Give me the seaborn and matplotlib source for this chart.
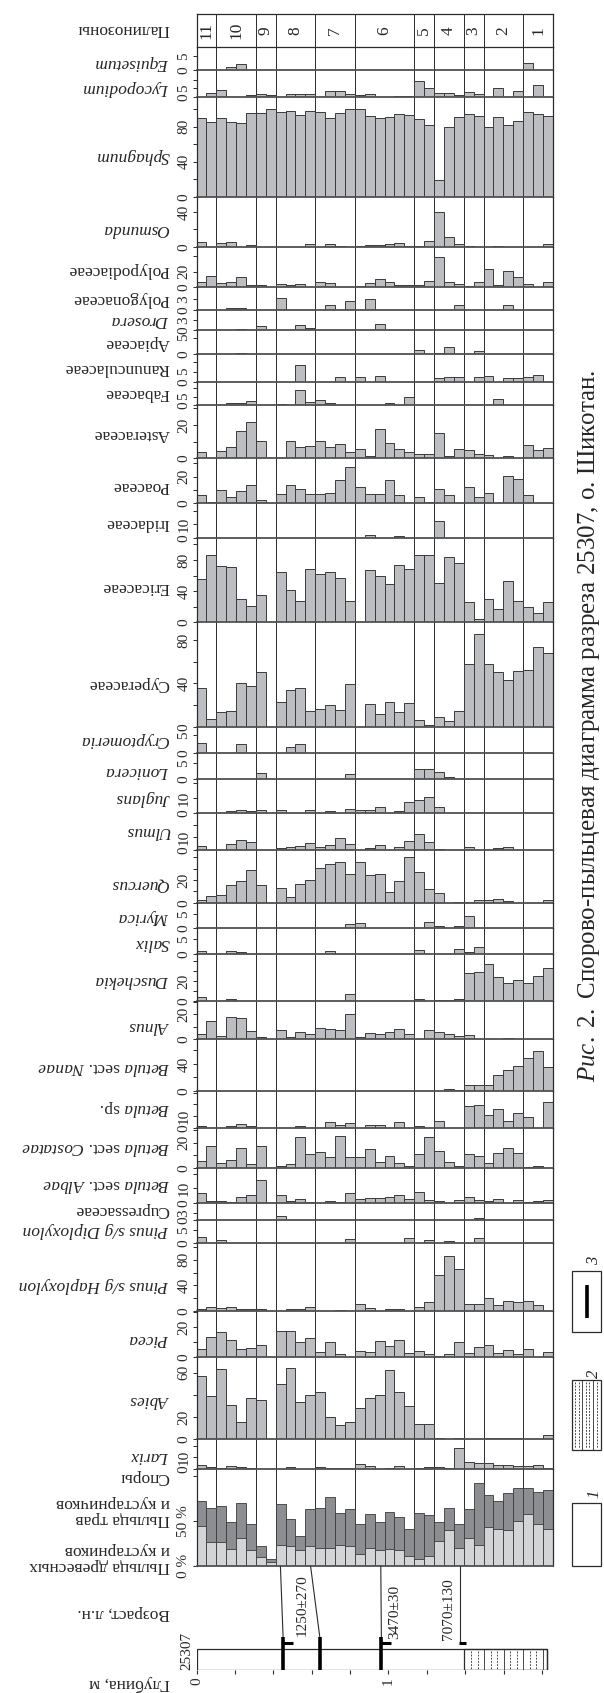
import numpy as np
import pandas as pd
import matplotlib
matplotlib.use("Agg")
import matplotlib.pyplot as plt
from matplotlib.patches import Rectangle
import seaborn as sns

# ==================== DATA ====================

N = 36
SAMPLES = list(range(N))

ZONE_NAMES = ['11', '10', '9', '8', '7', '6', '5', '4', '3', '2', '1']
ZONE_EDGES = [0, 2, 6, 8, 12, 16, 22, 24, 27, 29, 33, 36]

EQUISETUM = [0, 0, 0, 1.3, 2.1, 0, 0, 0, 0, 0, 0, 0, 0, 0, 0, 0, 0, 0,
             0, 0, 0, 0, 0, 0, 0, 0, 0, 0, 0, 0, 0, 0, 0, 2.4, 0, 0]
LYCOPODIUM = [0, 2, 3.8, 0, 0, 0.8, 1.4, 1, 0, 1.4, 1.4, 1.6, 0, 3.4, 3.4, 1.6, 0.8, 1.6,
              0, 0, 0.6, 0.6, 9.2, 5, 2, 2.4, 1, 2.8, 1.8, 0, 5.2, 0, 3.2, 0, 6.8, 0]
SPHAGNUM = [89.4, 85.6, 89.4, 85.6, 84.4, 95.8, 95.1, 99.6, 96.2, 98.1, 93.5, 97.3,
            96.2, 90.1, 95.8, 100, 99.6, 92.4, 90.1, 91.3, 94.7, 93.5, 88.2, 81.7,
            19.4, 79.8, 91.3, 94.7, 91.6, 79.1, 91.3, 81.7, 86.7, 97, 93.9, 92.4]
OSMUNDA = [5, 0, 3.9, 5.8, 0, 1.5, 0, 0, 0, 0, 0, 2.7, 0, 3.5, 1.2, 0, 1.2, 2.3,
           2.3, 2.7, 3.9, 1.2, 1.2, 6.2, 40.4, 10.9, 2.7, 1.2, 0, 0, 1.2, 0, 0, 0, 0, 3.5]
POLYPODIACEAE = [7.2, 14.9, 5.1, 7.2, 13.6, 2.6, 2.6, 0, 4.7, 2.6, 4.7, 0, 6.4, 5.1, 0, 0, 1.7, 6,
                 10.2, 7.2, 2.6, 2.6, 3.4, 7.7, 39, 7.2, 3.8, 2.1, 6.8, 23.4, 2.6, 21.3, 12.8, 3.8, 0, 6.4]
POLYGONACEAE = [0, 0, 0, 0.5, 0.7, 0, 0, 0, 3.5, 0, 0, 0, 0, 1.4, 0, 2.5, 0, 3.2,
                0, 0, 0, 0, 0, 0, 0, 0, 1.5, 0, 0, 0, 0, 1.4, 0, 0, 0, 0]
DROSERA = [0, 0, 0, 0, 0.5, 0, 1.2, 0, 0, 0, 1.7, 0.6, 0, 0, 0, 0, 0, 0,
           2, 0, 0, 0, 0, 0, 0, 0, 0, 0, 0, 0, 0, 0, 0, 0, 0, 0]
APIACEAE = [0, 0, 0, 0, 0.4, 0, 0, 0, 0, 0, 0, 0, 0, 0, 0, 0, 0, 0,
            0, 0, 0, 0, 1.2, 0, 0.3, 2.1, 0, 0, 0.8, 0, 0, 0, 0, 0, 0, 0]
RANUNCULACEAE = [0, 0, 0, 0, 0, 0, 0, 0, 0, 0, 8.3, 0, 0, 0, 2.5, 0, 2.2, 0,
                 3, 0, 0, 0, 0, 0, 1.8, 2.2, 2.2, 0, 2.2, 2.7, 0, 1.7, 1.7, 2.2, 3.2, 0]
FABACEAE = [0, 0, 0, 1.5, 1.5, 2.7, 0, 0, 1, 0, 8.8, 2.1, 3.3, 1.3, 0, 0, 0, 0,
            0, 1.3, 0, 5, 0, 0, 0, 0, 0, 0, 0, 0, 3.5, 0, 0, 0, 0, 0]
ASTERACEAE = [3.6, 0, 4.6, 7, 16.6, 21.6, 10.2, 0, 0, 10.6, 7, 7.6, 10.6, 6.6, 8.4, 4, 5.6, 1.6,
              17.8, 9, 5.8, 3.8, 2.8, 2.8, 15, 1.6, 5.4, 5, 2.4, 1.8, 0, 1.6, 0, 8, 4.8, 6.4]
POACEAE = [6.3, 1.3, 10, 5, 9.5, 14, 2.5, 0, 7.3, 14, 10.5, 7.3, 7.3, 8, 17.3, 27, 12.5, 6.8,
           7.3, 17.3, 6.3, 0, 4.8, 1, 11, 6.3, 0, 12.3, 4.8, 8, 0, 20.8, 18.3, 6, 0, 0]
IRIDACEAE = [0, 0, 0, 0, 0, 0, 0, 0, 0, 0, 0, 0, 0, 0, 0, 0, 0, 1.75,
             0, 0, 1, 0, 0, 0, 12.8, 0, 0, 0, 0, 0, 0, 0, 0, 0, 0, 0]
ERICACEAE = [55, 86, 72.6, 70.5, 30, 21.4, 35.5, 0, 65, 41, 27.8, 68.8, 62.4, 64.5, 56.8, 27.8, 0, 66.7,
             59, 48.7, 73.5, 68.8, 86, 86, 50.9, 83.3, 75.6, 25.6, 4.3, 29.5, 17.5, 52.6, 27, 19.2, 12, 26.5]
CYPERACEAE = [35.4, 6.8, 13.2, 14.8, 40, 37.8, 50, 0, 22.8, 33.8, 36, 14.8, 16.3, 19.7, 15.7, 39.4, 0, 20.9,
              11.4, 22.5, 13.2, 21.5, 5.8, 1.2, 9.2, 5.2, 14.8, 57.5, 85.8, 57.5, 50.8, 43.4, 51.7, 52, 73.8, 68]
CRYPTOMERIA = [2.9, 0, 0, 0, 2.4, 0, 0, 0, 0, 1.7, 2.5, 0, 0, 0, 0, 0, 0, 0,
               0, 0, 0, 0, 0, 0, 0, 0, 0, 0, 0, 0, 0, 0, 0, 0, 0, 0]
LONICERA = [0, 0, 0, 0, 0, 0, 1.8, 0, 0, 0, 0, 0, 0, 0, 0, 1.5, 0, 0,
            0, 0, 0, 0, 3.1, 3.2, 2.1, 0.6, 0, 0, 0, 0, 0, 0, 0, 0, 0, 0]
JUGLANS = [0, 0, 0, 1.1, 1.8, 1.1, 1.8, 0, 1.8, 0, 0, 2.2, 0, 1.1, 0, 2.4, 1.8, 1.8,
           3.8, 0, 1.1, 7.3, 8.4, 10.9, 4.2, 0, 0, 0, 0, 0, 0, 0, 0, 0, 0, 0]
ULMUS = [3.2, 0, 0, 4.3, 7.8, 6.2, 0, 0, 1.1, 1.9, 2.7, 5.4, 1.9, 3.5, 9.5, 4.9, 0, 1.1,
         3.5, 0, 1.9, 7, 13, 6.5, 0.8, 0, 0, 2.2, 0, 0, 1.6, 1.9, 0, 0, 0, 0]
QUERCUS = [2, 5.9, 6.5, 15.9, 18.8, 29, 15.6, 0, 13.2, 5, 16.8, 20.3, 30.3, 34.4, 35.6, 25.6, 35.9, 24.7,
           25.6, 9.7, 18.8, 40.3, 27.4, 11.8, 8.8, 0, 0.9, 0.9, 2.4, 2.6, 3.5, 1.8, 0, 0, 0, 2]
MYRICA = [0, 0, 0, 0, 0, 0, 0, 0, 0, 0, 0, 0, 0, 0, 0, 1.5, 1.7, 0,
          0, 0, 0, 0, 0, 2.1, 0.8, 0, 0.7, 4.3, 0, 0, 0, 0, 0, 0, 0, 0]
SALIX = [1.1, 0, 0, 0.9, 0.6, 0, 0, 0, 0, 0, 0, 0, 0, 0.9, 0, 0, 0, 0,
         0, 0, 0, 0, 1.5, 0, 0, 0, 1.6, 0.7, 2.3, 0, 0, 0, 0, 0, 0, 0]
DUSCHEKIA = [4.1, 0, 0, 1.4, 0, 0, 0, 0, 0, 0, 0, 0, 0, 0, 0, 7.1, 0, 0,
             0, 0, 0, 0, 2, 0, 0.7, 0.7, 2, 27.8, 29.2, 37.3, 24, 18, 20.7, 18.3, 25.4, 32.9]
ALNUS = [4.3, 14.1, 2.1, 17.3, 16.5, 6.1, 1.6, 0, 7.2, 1.6, 5.9, 3.7, 8.5, 7.7, 6.9, 19.7, 1.6, 4.5,
         3.7, 5.3, 8, 3.7, 0, 6.9, 5.9, 3.7, 2.1, 2.9, 0, 0, 0, 1, 0, 0, 0, 0]
BETULA_NANAE = [0, 0, 0, 0, 0, 0, 0, 0, 0, 0, 0, 0, 0, 0, 0, 0, 0, 0,
                0, 0, 0, 0, 0, 0, 0, 2.5, 1, 8.4, 9.4, 8.9, 24.2, 31.6, 36.5, 48.4, 59.8, 35]
BETULA_SP = [1.1, 0, 0, 1.7, 3.1, 1.1, 0, 0, 0, 0, 1.1, 0, 0, 4.6, 2, 4, 0, 2.6,
             2.6, 0, 5.1, 0, 1.7, 0, 6, 0, 0, 18.9, 19.7, 11.1, 16.3, 6, 12.3, 8.9, 0, 22.3]
BETULA_COSTATAE = [5.5, 17.7, 4.4, 6.8, 15.6, 3.1, 17.7, 0, 2.1, 3.6, 24.4, 11.4, 12.7, 9.1, 24.9, 9.1, 9.1, 15.1,
                   5.2, 9.9, 4.4, 2.1, 11.2, 24.7, 13.5, 5.2, 2.1, 11.2, 9.9, 3.9, 12, 15.6, 11.7, 1, 1.6, 0]
BETULA_ALBAE = [7, 1.2, 1.2, 0.5, 4.2, 5.6, 16, 0, 5.3, 1.4, 2.3, 0.5, 0, 1.2, 0.5, 7, 2.6, 3.5,
                3, 3.7, 5.3, 2.8, 7.7, 1.6, 1.2, 0, 1.6, 3.7, 1.9, 0.9, 2.3, 0, 1.6, 0.7, 1.4, 1.6]
CUPRESSACEAE = [0, 0, 0, 0, 0, 0, 0, 0, 1.8, 0, 0, 0, 0, 0, 0, 0, 0, 0,
                0, 0, 0, 0, 0, 0, 0, 0, 0, 0, 0.75, 0, 0, 0, 0, 0, 0, 0]
PINUS_DIPLOXYLON = [2.4, 0, 1.2, 0, 0, 0, 0, 0, 0, 0, 0, 0, 0, 0, 0, 1.6, 0, 0,
                    0, 0, 0, 2, 0, 0.9, 0, 0.7, 0, 0, 1.8, 0, 0, 0, 0, 0, 0, 0]
PINUS_HAPLOXYLON = [2.6, 6.8, 4.2, 6.8, 3.1, 2.6, 3.6, 0, 0, 3.1, 2.6, 5.7, 0, 0, 2.1, 0, 10.4, 4.2,
                    0, 3.6, 2.6, 0, 6.8, 13.5, 55.6, 86.2, 65.5, 11.4, 11.4, 20.8, 8.8, 16.1, 13.5, 15.1, 8.8, 0]
PICEA = [5.3, 13.8, 16.7, 11.3, 5.8, 6, 8, 0, 17.3, 17.3, 10, 12.7, 3.3, 10.2, 2, 0, 4.4, 3.8,
         11.1, 7.3, 11.6, 3.1, 4, 2, 1.1, 2.4, 10, 2.7, 6.9, 8, 3.1, 4.9, 2, 5.8, 0, 3.3]
ABIES = [56.7, 39.4, 63, 31.2, 15.2, 37, 35.5, 0, 50, 64.2, 33.3, 40.3, 42.4, 19.7, 12.7, 15.2, 27.9, 37.3,
         40.3, 62.1, 42.7, 30, 13.3, 13.6, 0.9, 0, 1.2, 0, 0, 0.9, 0.9, 0.6, 0.6, 0, 0, 3.3]
LARIX = [2.9, 1.2, 0.6, 2.1, 1.5, 0.6, 0, 0, 0, 1.2, 0, 0, 1.2, 0.6, 0.6, 0.9, 3.8, 2.4,
         0, 0.6, 2.6, 0, 0.9, 1.8, 1.5, 0.9, 17.9, 5.6, 4.7, 5.3, 3.2, 3.5, 2.1, 2.1, 2.9, 0.9]

# summary: pollen of trees/shrubs, pollen of herbs/dwarf shrubs (rest = spores)
TREES = [44.1, 26.7, 25.9, 18.9, 30.4, 17, 9.6, 3.7, 23, 21.5, 17.4, 21.5, 19.6, 20, 23.3, 22.2, 12.6, 19.3,
         17.4, 18.9, 17, 10.7, 7, 10.4, 27.8, 39.6, 20, 30.7, 22.6, 43.3, 40.7, 40, 49.3, 57, 46.3, 40.4]
HERBS = [27.8, 37, 40.8, 29.2, 39.6, 28.9, 11.9, 3.3, 45.5, 30, 15.2, 41.5, 44.5, 56.7, 35.2, 40.8, 33.3, 38.1,
         31.1, 41.1, 37.4, 30.4, 51.9, 45.5, 20.3, 24.8, 25.9, 32.6, 68.9, 35.2, 30.8, 41.1, 36.6, 29.7, 35.9, 43.7]

# radiocarbon dates, labels placed at depth (m)
DATE_TEXT = ['1250±270', '3470±30', '7070±130']
DATE_TEXT_DEPTH = [0.552, 1.03, 1.315]
CORE_LEN = 1.828
CLAY_TOP = 1.396

# ==================== LAYOUT ====================

W, H = 604, 1693
X0, X1 = 196.5, 552.8
DEPTH_MAX = 1.856

# label, values, top px, base px, ymax, ticks, tick labels, label y px
STRIPS = [
    ('Equisetum', EQUISETUM, 46.7, 70.3, 8.2, [0, 5], ['0', '5'], 63),
    ('Lycopodium', LYCOPODIUM, 70.3, 96.7, 15.8, [0, 5, 10], ['0', '5', ''], 88),
    ('Sphagnum', SPHAGNUM, 96.7, 196.7, 114, [0, 20, 40, 60, 80, 100], ['0', '', '40', '', '80', ''], 156),
    ('Osmunda', OSMUNDA, 196.7, 246.7, 58, [0, 20, 40], ['0', '', '40'], 229),
    ('Polypodiaceae', POLYPODIACEAE, 246.7, 287.3, 52, [0, 20, 40], ['0', '20', ''], 270),
    ('Polygonaceae', POLYGONACEAE, 287.3, 310.3, 6.3, [0, 3], ['0', '3'], 299),
    ('Drosera', DROSERA, 310.3, 330.3, 6, [0, 3], ['0', '3'], 320),
    ('Apiaceae', APIACEAE, 330.3, 354, 7.2, [0, 5], ['0', '5'], 343),
    ('Ranunculaceae', RANUNCULACEAE, 354, 381.7, 13.8, [0, 5, 10], ['0', '5', ''], 368),
    ('Fabaceae', FABACEAE, 381.7, 405.3, 13.6, [0, 5, 10], ['0', '5', ''], 393),
    ('Asteraceae', ASTERACEAE, 405.3, 458.3, 31.8, [0, 10, 20, 30], ['0', '', '20', ''], 434),
    ('Poaceae', POACEAE, 458.3, 503.3, 33.8, [0, 10, 20, 30], ['0', '', '20', ''], 486),
    ('Iridaceae', IRIDACEAE, 503.3, 537.7, 25.8, [0, 10, 20], ['0', '10', ''], 523),
    ('Ericaceae', ERICACEAE, 537.7, 622.3, 108.5, [0, 20, 40, 60, 80, 100], ['0', '', '40', '', '80', ''], 587),
    ('Cyperaceae', CYPERACEAE, 622.3, 726.7, 96.3, [0, 20, 40, 60, 80], ['0', '', '40', '', '80'], 684),
    ('Cryptomeria', CRYPTOMERIA, 726.7, 752.7, 7.4, [0, 5], ['0', '5'], 740),
    ('Lonicera', LONICERA, 752.7, 779, 8.4, [0, 5], ['0', '5'], 771),
    ('Juglans', JUGLANS, 779, 813, 22.7, [0, 10, 20], ['0', '10', ''], 798),
    ('Ulmus', ULMUS, 813, 849.7, 29.7, [0, 10, 20], ['0', '10', ''], 831),
    ('Quercus', QUERCUS, 849.7, 902.7, 46.8, [0, 10, 20, 30, 40], ['0', '', '20', '', ''], 885),
    ('Myrica', MYRICA, 902.7, 928.3, 9, [0, 5], ['0', '5'], 917),
    ('Salix', SALIX, 928.3, 954, 8.75, [0, 5], ['0', '5'], 943),
    ('Duschekia', DUSCHEKIA, 954, 1000.7, 47.5, [0, 10, 20, 30, 40], ['0', '', '20', '', ''], 980),
    ('Alnus', ALNUS, 1000.7, 1039, 30.7, [0, 10, 20, 30], ['0', '', '20', ''], 1026),
    (r'$\mathit{Betula}$ sect. $\mathit{Nanae}$', BETULA_NANAE, 1039, 1091, 77, [0, 20, 40, 60], ['0', '', '40', ''], 1067),
    (r'$\mathit{Betula}$ sp.', BETULA_SP, 1091, 1127.7, 31.4, [0, 10, 20, 30], ['0', '10', '', ''], 1108),
    (r'$\mathit{Betula}$ sect. $\mathit{Costatae}$', BETULA_COSTATAE, 1127.7, 1168.3, 31.7, [0, 10, 20, 30], ['0', '', '20', ''], 1147),
    (r'$\mathit{Betula}$ sect. $\mathit{Albae}$', BETULA_ALBAE, 1168.3, 1202.7, 24, [0, 10, 20], ['0', '10', ''], 1184),
    ('Cupressaceae', CUPRESSACEAE, 1202.7, 1220, 7.8, [0, 3], ['0', '3'], 1210),
    ('Pinus s/g Diploxylon', PINUS_DIPLOXYLON, 1220, 1242.7, 8.9, [0, 5], ['0', '5'], 1230),
    ('Pinus s/g Haploxylon', PINUS_HAPLOXYLON, 1242.7, 1311, 106.5, [0, 20, 40, 60, 80, 100], ['0', '', '40', '', '80', ''], 1285),
    ('Picea', PICEA, 1311, 1357.3, 30.9, [0, 10, 20, 30], ['0', '', '20', ''], 1339),
    ('Abies', ABIES, 1357.3, 1439, 74, [0, 20, 40, 60], ['0', '20', '', '60'], 1400),
    ('Larix', LARIX, 1439, 1468.7, 26, [0, 10, 20], ['0', '10', ''], 1456),
]
SUM_TOP, SUM_BASE = 1468.7, 1565.7

BAR = '#bdbec2'
EDGE = '#3a3a3a'
TREE_C = '#d3d4d6'
HERB_C = '#8d8e92'
LINE_C = '#2b2b2b'

# ==================== FIGURE ====================

sns.set_style('ticks')
plt.rcParams['font.family'] = ['Liberation Serif', 'DejaVu Serif']
plt.rcParams['mathtext.fontset'] = 'custom'
plt.rcParams['mathtext.rm'] = 'Liberation Serif'
plt.rcParams['mathtext.it'] = 'Liberation Serif:italic'
plt.rcParams['axes.edgecolor'] = LINE_C
plt.rcParams['axes.linewidth'] = 0.9

fig = plt.figure(figsize=(W / 100, H / 100), dpi=100)


def px_axes(top, bottom, left=X0, right=X1):
    return fig.add_axes([left / W, 1 - bottom / H, (right - left) / W, (bottom - top) / H])


def side_label(y, text, **kw):
    fig.text(169.5 / W, 1 - y / H, text, rotation=180, ha='right', va='center',
             fontsize=12.5, **kw)


# zone lines behind everything
bg = px_axes(14, SUM_BASE)
bg.set_xlim(-0.5, N - 0.5)
bg.set_ylim(0, 1)
bg.axis('off')
for e in ZONE_EDGES[1:-1]:
    bg.axvline(e - 0.5, color=LINE_C, lw=0.7)

# palynozones box
az = px_axes(14, 46.7)
az.patch.set_alpha(0)
az.set_xlim(-0.5, N - 0.5)
az.set_ylim(0, 1)
az.set_xticks([])
az.set_yticks([])
for i, name in enumerate(ZONE_NAMES):
    c = (ZONE_EDGES[i] + ZONE_EDGES[i + 1] - 1) / 2
    az.text(c, 0.5, name, rotation=90, ha='center', va='center', fontsize=12.5)
side_label(29, 'Палинозоны')


def setup_strip(ax, ymax, ticks, tlabels):
    ax.patch.set_alpha(0)
    ax.set_xlim(-0.5, N - 0.5)
    ax.set_ylim(0, ymax)
    ax.set_xticks([])
    ax.set_xlabel('')
    ax.set_ylabel('')
    ax.set_yticks(ticks)
    ax.set_yticklabels(tlabels, rotation=90, va='center')
    ax.tick_params(axis='y', direction='out', length=3, width=0.7, pad=1.5,
                   labelsize=11, colors=LINE_C)
    ax.spines['top'].set_visible(False)
    ax.spines['bottom'].set_linewidth(1.3)
    ax.spines['bottom'].set_color('#505050')


for label, vals, top, base, ymax, ticks, tlabels, ly in STRIPS:
    ax = px_axes(top, base)
    df = pd.DataFrame({'sample': SAMPLES, 'value': vals})
    sns.barplot(data=df, x='sample', y='value', order=SAMPLES, color=BAR, saturation=1,
                width=1, edgecolor=EDGE, linewidth=0.7, errorbar=None, ax=ax)
    setup_strip(ax, ymax, ticks, tlabels)
    italic = ('$' not in label) and not label.endswith('aceae')
    side_label(ly, label, style='italic' if italic else 'normal')

# summary strip
ax = px_axes(SUM_TOP, SUM_BASE)
sdf = pd.DataFrame({'sample': SAMPLES, 'trees': TREES,
                    'total': np.array(TREES) + np.array(HERBS)})
sns.barplot(data=sdf, x='sample', y='total', order=SAMPLES, color=HERB_C, saturation=1,
            width=1, edgecolor=EDGE, linewidth=0.6, errorbar=None, ax=ax)
sns.barplot(data=sdf, x='sample', y='trees', order=SAMPLES, color=TREE_C, saturation=1,
            width=1, edgecolor=EDGE, linewidth=0.6, errorbar=None, ax=ax)
setup_strip(ax, 107.8, [0, 50, 100], ['0 %', '50 %', ''])
side_label(1477, 'Споры')
side_label(1511, 'Пыльца трав\nи кустарничков', multialignment='left', linespacing=0.95)
side_label(1558, 'Пыльца древесных\nи кустарников', multialignment='left', linespacing=0.95)

# ==================== CORE / AGE ====================

low = px_axes(SUM_BASE, 1670)
low.patch.set_alpha(0)
low.set_xlim(0, DEPTH_MAX)
low.set_ylim(1670, SUM_BASE)
for s in low.spines.values():
    s.set_visible(False)
low.set_yticks([])
low.set_xticks([0, 1])
low.set_xticklabels(['0', '1'], rotation=90)
low.set_xticks(np.arange(0, 1.81, 0.2), minor=True)
low.tick_params(axis='x', which='both', direction='out', length=3, width=0.8,
                labelsize=11, pad=2, colors=LINE_C)

low.add_patch(Rectangle((0, 1649), CORE_LEN, 21, fill=False, ec=LINE_C, lw=0.9))
low.add_patch(Rectangle((CLAY_TOP, 1649), CORE_LEN - CLAY_TOP, 21, fill=False, ec=LINE_C, lw=0.9))
for k, d in enumerate(np.arange(CLAY_TOP, CORE_LEN, 0.034)):
    if k % 3 == 0:
        low.plot([d, d], [1649, 1670], color=LINE_C, lw=0.6)
    else:
        low.plot([d, d], [1650.5, 1668.5], color=LINE_C, lw=0.6, ls=(0, (2.2, 1.6)))

# date connectors
low.plot([0.437, 0.451], [SUM_BASE, 1636.7], color=LINE_C, lw=0.8)
low.plot([0.594, 0.642], [SUM_BASE, 1636.7], color=LINE_C, lw=0.8)
low.plot([0.960, 0.963], [SUM_BASE, 1636.7], color=LINE_C, lw=0.8)
low.plot([1.375, 1.375], [SUM_BASE, 1643.3], color=LINE_C, lw=0.8)
for d in [0.451, 0.642, 0.963]:
    low.plot([d, d], [1636.7, 1670], color='black', lw=2.6, solid_capstyle='butt')
low.plot([0.451, 0.502], [1643.3, 1643.3], color='black', lw=2.2, solid_capstyle='butt')
low.plot([0.963, 1.014], [1643.3, 1643.3], color='black', lw=2.2, solid_capstyle='butt')
low.plot([1.365, 1.405], [1643.3, 1643.3], color='black', lw=2.2, solid_capstyle='butt')
for txt, d, yb in zip(DATE_TEXT, DATE_TEXT_DEPTH, [1636, 1639, 1640]):
    low.text(d, yb, txt, rotation=90, ha='center', va='bottom', fontsize=11)

fig.text(187 / W, 1 - 1651 / H, '25307', rotation=90, ha='center', va='center', fontsize=11)
side_label(1613, 'Возраст, л.н.')
side_label(1683, 'Глубина, м')

# ==================== LEGEND / CAPTION ====================

ov = fig.add_axes([0, 0, 1, 1])
ov.set_xlim(0, W)
ov.set_ylim(H, 0)
ov.axis('off')
ov.patch.set_alpha(0)

ov.add_patch(Rectangle((572, 1503), 29, 63, fill=False, ec=LINE_C, lw=0.9))
ov.add_patch(Rectangle((572, 1380), 29, 70, fill=False, ec=LINE_C, lw=0.9))
for k, xx in enumerate(np.arange(575, 600, 3.6)):
    if k % 3 == 2:
        ov.plot([xx, xx], [1380, 1450], color=LINE_C, lw=0.6)
    else:
        ov.plot([xx, xx], [1382, 1448], color=LINE_C, lw=0.6, ls=(0, (2.2, 1.6)))
ov.add_patch(Rectangle((572, 1271), 29, 61, fill=False, ec=LINE_C, lw=0.9))
ov.plot([586.5, 586.5], [1285, 1318], color='black', lw=2.6, solid_capstyle='butt')
for num, yy in [('1', 1494), ('2', 1374), ('3', 1261)]:
    ov.text(594, yy, num, rotation=90, ha='center', va='center', fontsize=12, style='italic')

ov.text(589, 1082, r'$\mathit{Рис.\ 2.}$ Спорово-пыльцевая диаграмма разреза 25307, о. Шикотан.',
        rotation=90, ha='center', va='bottom', fontsize=18)

fig.savefig('out.png', dpi=100)
